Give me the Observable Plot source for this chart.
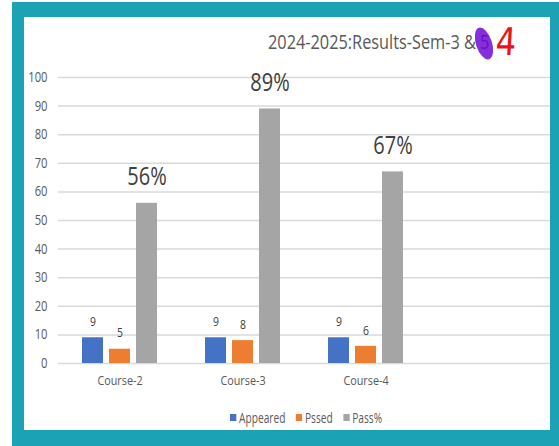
<!DOCTYPE html>
<html>
<head>
<meta charset="utf-8">
<script src="https://cdn.jsdelivr.net/npm/d3@7"></script>
<script src="https://cdn.jsdelivr.net/npm/@observablehq/plot@0.6"></script>
<style>
  html, body { margin: 0; padding: 0; background: #ffffff; }
  #page { position: relative; width: 559px; height: 446px; overflow: hidden;
          font-family: "Open Sans", sans-serif; }
  #frame { position: absolute; left: 12px; top: 2px; width: 547px; height: 444px; background: #1BA3B5; }
  #inner { position: absolute; left: 24px; top: 17px; width: 526px; height: 413px; background: #ffffff; }
  #chart { position: absolute; left: 24px; top: 17px; }
  #title { position: absolute; left: 268px; top: 28px; font-size: 20px; color: #595959; white-space: nowrap;
           line-height: 28px; transform: scaleX(0.815); transform-origin: 0 0; }
  #blob { position: absolute; left: 476px; top: 27px; width: 16px; height: 33px; border-radius: 50%;
          background: #6A00D4; opacity: 0.82; transform: rotate(-18deg); }
  #red4 { position: absolute; left: 494px; top: 20px; font-size: 38px; color: #E8141A; font-family: "DejaVu Sans", sans-serif;
          line-height: 44px; transform: scaleX(0.85) skewX(-4deg); }
  #legend { position: absolute; left: 230px; top: 405px; font-size: 14.5px; color: #595959; white-space: nowrap;
            line-height: 22px; transform: scaleX(0.7); transform-origin: 0 0; }
  #legend .item { display: inline-flex; align-items: center; margin-right: 15px; }
  #legend .sw { display: inline-block; width: 9px; height: 7px; margin-right: 4px; }
</style>
</head>
<body>
<div id="page">
  <div id="frame"></div>
  <div id="inner"></div>
  <div id="chart"></div>
  <div id="title"></div>
  <div id="blob"></div>
  <div id="red4"></div>
  <div id="legend"></div>
</div>
<script>
const titleText = "2024-2025:Results-Sem-3 & 5";
const scribble = "4";
const courses = ["Course-2", "Course-3", "Course-4"];
const emptySlot = "";
const series = ["Appeared", "Pssed", "Pass%"];
const appeared = [9, 9, 9];
const passed = [5, 8, 6];
const passPct = [56, 89, 67];
const pctLabels = ["56%", "89%", "67%"];
const yTicks = [0, 10, 20, 30, 40, 50, 60, 70, 80, 90, 100];
const colors = ["#4472C4", "#ED7D31", "#A5A5A5"];

const fxDomain = [...courses, emptySlot];

const data = courses.flatMap((c, i) => [
  {course: c, series: series[0], value: appeared[i], label: String(appeared[i])},
  {course: c, series: series[1], value: passed[i], label: String(passed[i])},
  {course: c, series: series[2], value: passPct[i], label: pctLabels[i]}
]);
const gridData = fxDomain.flatMap(c => yTicks.map(t => ({course: c, tick: t})));

document.getElementById("title").textContent = titleText;
document.getElementById("red4").textContent = scribble;

const chart = Plot.plot({
  width: 526,
  height: 413,
  marginLeft: 33,
  marginRight: 0,
  marginTop: 60,
  marginBottom: 67,
  style: {fontFamily: '"Open Sans", sans-serif', fontSize: "12px", color: "#595959", background: "transparent"},
  fx: {domain: fxDomain, paddingInner: 0, paddingOuter: 0, label: null},
  x: {domain: series, axis: null, paddingInner: 0.22, paddingOuter: 0.85},
  y: {domain: [0, 100], label: null},
  color: {domain: series, range: colors},
  marks: [
    Plot.ruleY(gridData, {fx: "course", y: "tick", stroke: "#D9D9D9", strokeWidth: 1.5}),
    Plot.axisY({ticks: yTicks, tickSize: 0, tickPadding: 11, fontSize: 14, fill: "#595959", label: null}),
    Plot.axisFx({anchor: "bottom", tickSize: 0, tickPadding: 12, fontSize: 13.5, fill: "#595959", label: null}),
    Plot.barY(data, {fx: "course", x: "series", y: "value", fill: "series"}),
    Plot.text(data.filter(d => d.series !== "Pass%"), {fx: "course", x: "series", y: "value", text: "label", dy: -16, fontSize: 13, fill: "#404040"}),
    Plot.text(data.filter(d => d.series === "Pass%"), {fx: "course", x: "series", y: "value", text: "label", dy: -26, fontSize: 25, fill: "#404040"})
  ]
});
document.getElementById("chart").appendChild(chart);

// horizontally condense all chart text (reference text is narrow)
chart.querySelectorAll("text").forEach(t => {
  const len = t.getComputedTextLength();
  if (len > 0) {
    t.setAttribute("textLength", (len * 0.8).toFixed(2));
    t.setAttribute("lengthAdjust", "spacingAndGlyphs");
  }
});

const legend = document.getElementById("legend");
series.forEach((s, i) => {
  const item = document.createElement("span");
  item.className = "item";
  const sw = document.createElement("span");
  sw.className = "sw";
  sw.style.background = colors[i];
  item.appendChild(sw);
  item.appendChild(document.createTextNode(s));
  legend.appendChild(item);
});
</script>
</body>
</html>
